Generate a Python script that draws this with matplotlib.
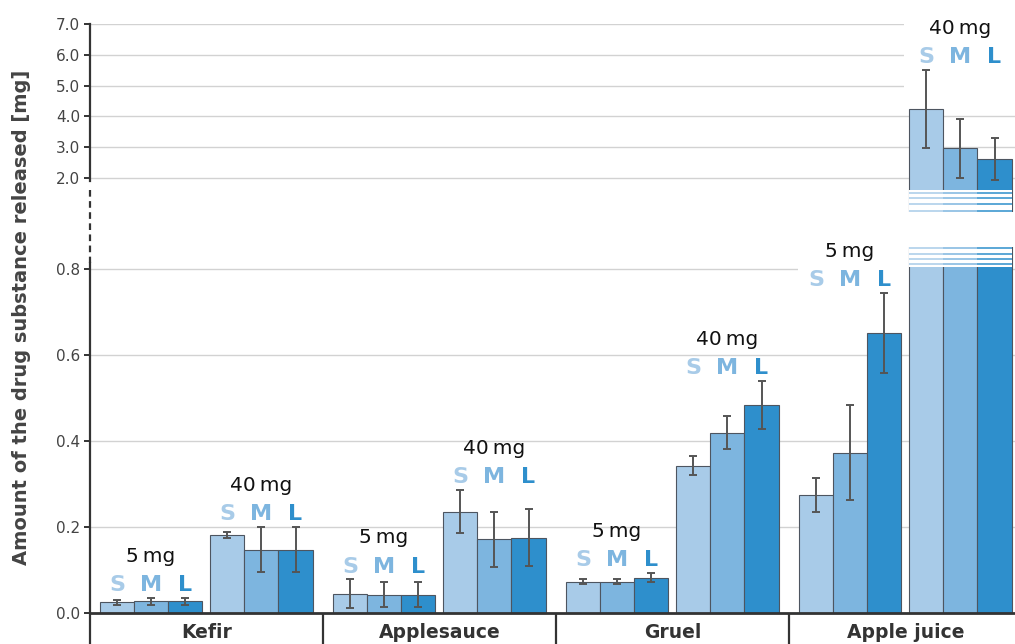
import matplotlib
matplotlib.use("Agg")
import matplotlib.pyplot as plt
from matplotlib.patches import Rectangle
from matplotlib.lines import Line2D
import numpy as np

plt.rcParams["font.family"] = ["DejaVu Sans"]

# ---------------------------------------------------------------- data
categories = ["Kefir", "Applesauce", "Gruel", "Apple juice"]
dose_labels = ["5\u2009mg", "40\u2009mg"]
size_labels = ["S", "M", "L"]

s_5mg = [0.025, 0.045, 0.073, 0.275]
m_5mg = [0.027, 0.043, 0.073, 0.373]
l_5mg = [0.027, 0.043, 0.082, 0.652]
s_5mg_err = [0.006, 0.033, 0.006, 0.040]
m_5mg_err = [0.008, 0.030, 0.006, 0.110]
l_5mg_err = [0.008, 0.030, 0.010, 0.093]

s_40mg = [0.182, 0.236, 0.343, 4.23]
m_40mg = [0.147, 0.171, 0.419, 2.96]
l_40mg = [0.147, 0.175, 0.483, 2.61]
s_40mg_err = [0.007, 0.050, 0.022, 1.27]
m_40mg_err = [0.052, 0.064, 0.038, 0.97]
l_40mg_err = [0.052, 0.066, 0.056, 0.68]

upper_ticks = [2.0, 3.0, 4.0, 5.0, 6.0, 7.0]
lower_ticks = [0.0, 0.2, 0.4, 0.6, 0.8]

# ---------------------------------------------------------------- style
colors = ["#a8cbe8", "#7db5df", "#2e8fcc"]
edge = "#4d5560"
err_col = "#555555"
dark = "#333333"
grid_col = "#d2d2d2"
tick_col = "#444444"

W, H, DPI = 1015, 644, 100
fig = plt.figure(figsize=(W / DPI, H / DPI), dpi=DPI)

# axes geometry in pixels (top-down)
x_left, x_right = 90, 1015
px_per_cat = 233.0
up_top, up_bot = 24, 212
lo_top, lo_bot = 246.5, 644
zero_px = 613
lo_scale = 430.0          # px per mg, lower panel
up_scale = 30.8           # px per mg, upper panel


def fig_rect(top, bot):
    return [x_left / W, 1 - bot / H, (x_right - x_left) / W, (bot - top) / H]


ax_up = fig.add_axes(fig_rect(up_top, up_bot))
ax_lo = fig.add_axes(fig_rect(lo_top, lo_bot))

xmax = (x_right - x_left) / px_per_cat
ax_up.set_xlim(0, xmax)
ax_lo.set_xlim(0, xmax)
ax_up.set_ylim(7.0 - (up_bot - up_top) / up_scale, 7.0)
ax_lo.set_ylim(-(lo_bot - zero_px) / lo_scale, (zero_px - lo_top) / lo_scale)

bar_w = 0.146
group_centers = [0.262, 0.736]
series = [
    [(s_5mg, s_5mg_err), (m_5mg, m_5mg_err), (l_5mg, l_5mg_err)],
    [(s_40mg, s_40mg_err), (m_40mg, m_40mg_err), (l_40mg, l_40mg_err)],
]
cat_x = np.arange(len(categories))

for ax in (ax_up, ax_lo):
    for g, gc in enumerate(group_centers):
        for k, (vals, errs) in enumerate(series[g]):
            xs = cat_x + gc + (k - 1) * bar_w
            ax.bar(xs, vals, width=bar_w, color=colors[k], edgecolor=edge,
                   linewidth=0.8, zorder=2)
            ax.errorbar(xs, vals, yerr=errs, fmt="none", ecolor=err_col,
                        elinewidth=1.4, capsize=3, capthick=1.4, zorder=3)
    for sp in ("top", "right", "bottom"):
        ax.spines[sp].set_visible(False)
    ax.spines["left"].set_color(dark)
    ax.spines["left"].set_linewidth(1.6)
    ax.set_xticks([])
    ax.set_axisbelow(True)
    ax.yaxis.grid(True, color=grid_col, linewidth=1.0, zorder=0)
    ax.tick_params(axis="y", direction="out", length=4, width=1.4,
                   color=dark, labelsize=11, labelcolor=tick_col, pad=3)

ax_up.set_yticks(upper_ticks)
ax_up.set_yticklabels([f"{t:.1f}" for t in upper_ticks])
ax_lo.set_yticks(lower_ticks)
ax_lo.set_yticklabels([f"{t:.1f}" for t in lower_ticks])
ax_lo.get_ygridlines()[0].set_visible(False)

ax_up.spines["left"].set_bounds(1.9, 7.0)
ax_lo.spines["left"].set_bounds(ax_lo.get_ylim()[0], 0.815)

# baseline and category separators
ax_lo.axhline(0, color=dark, linewidth=2.0, zorder=4)
ax_lo.vlines(cat_x[1:], ax_lo.get_ylim()[0], 0, color=dark, linewidth=1.6,
             zorder=4)

# dashed part of the broken axis
fig.add_artist(Line2D([x_left / W, x_left / W], [1 - 190 / H, 1 - 263 / H],
                      color=dark, linewidth=1.6, linestyle=(0, (3, 2))))

# break marks on the bars that cross the gap
big = [k for k in range(3) if series[1][k][0][3] > ax_lo.get_ylim()[1]]
up_h = up_bot - up_top
lo_h = lo_bot - lo_top
for k in big:
    x0 = cat_x[3] + group_centers[1] + (k - 1) * bar_w - bar_w / 2
    # upper panel: fade out towards the bottom
    ax_up.add_patch(Rectangle((x0, 0), bar_w, 22.5 / up_h, facecolor="white",
                              edgecolor="none", zorder=3.5,
                              transform=ax_up.get_xaxis_transform()))
    for off in (19.5, 14.0, 8.0, 1.5):
        ax_up.hlines(off / up_h, x0, x0 + bar_w, color=colors[k], linewidth=1.1,
                     zorder=3.6, transform=ax_up.get_xaxis_transform())
    # lower panel: fade in from the top
    ax_lo.add_patch(Rectangle((x0, 1 - 20.5 / lo_h), bar_w, 20.5 / lo_h,
                              facecolor="white", edgecolor="none", zorder=3.5,
                              transform=ax_lo.get_xaxis_transform()))
    for off in (1.0, 7.0, 12.0, 17.0):
        ax_lo.hlines(1 - off / lo_h, x0, x0 + bar_w, color=colors[k],
                     linewidth=1.1, zorder=3.6,
                     transform=ax_lo.get_xaxis_transform())

# white backing behind the apple-juice group labels
ax_up.add_patch(Rectangle(((904 - x_left) / px_per_cat, 7.0 - (92 - up_top) / up_scale),
                          1.0, 3.0, facecolor="white", edgecolor="none", zorder=1))
ax_lo.add_patch(Rectangle(((798 - x_left) / px_per_cat, 0.78), 0.49, 0.04,
                          facecolor="white", edgecolor="none", zorder=1))

# dose and size labels above each group
for i in range(len(categories)):
    for g, gc in enumerate(group_centers):
        top = max(v[i] + e[i] for v, e in series[g])
        ax = ax_up if top > ax_lo.get_ylim()[1] else ax_lo
        ax.annotate(dose_labels[g], (i + gc, top), xytext=(0, 26),
                    textcoords="offset points", ha="center", va="baseline",
                    fontsize=14.5, color="#111111", annotation_clip=False,
                    zorder=5)
        for k in range(3):
            ax.annotate(size_labels[k], (i + gc + (k - 1) * bar_w, top),
                        xytext=(0, 5), textcoords="offset points",
                        ha="center", va="baseline", fontsize=16,
                        fontweight="bold", color=colors[k],
                        annotation_clip=False, zorder=5)

# category names
for i, name in enumerate(categories):
    ax_lo.text(i + 0.5, (zero_px - 632) / lo_scale, name, ha="center",
               va="center", fontsize=13.5, fontweight="bold", color=dark)

fig.text(22 / W, 1 - 317 / H, "Amount of the drug substance released [mg]",
         rotation=90, ha="center", va="center", fontsize=14,
         fontweight="bold", color="#444444")

fig.savefig("out.png", dpi=DPI)
